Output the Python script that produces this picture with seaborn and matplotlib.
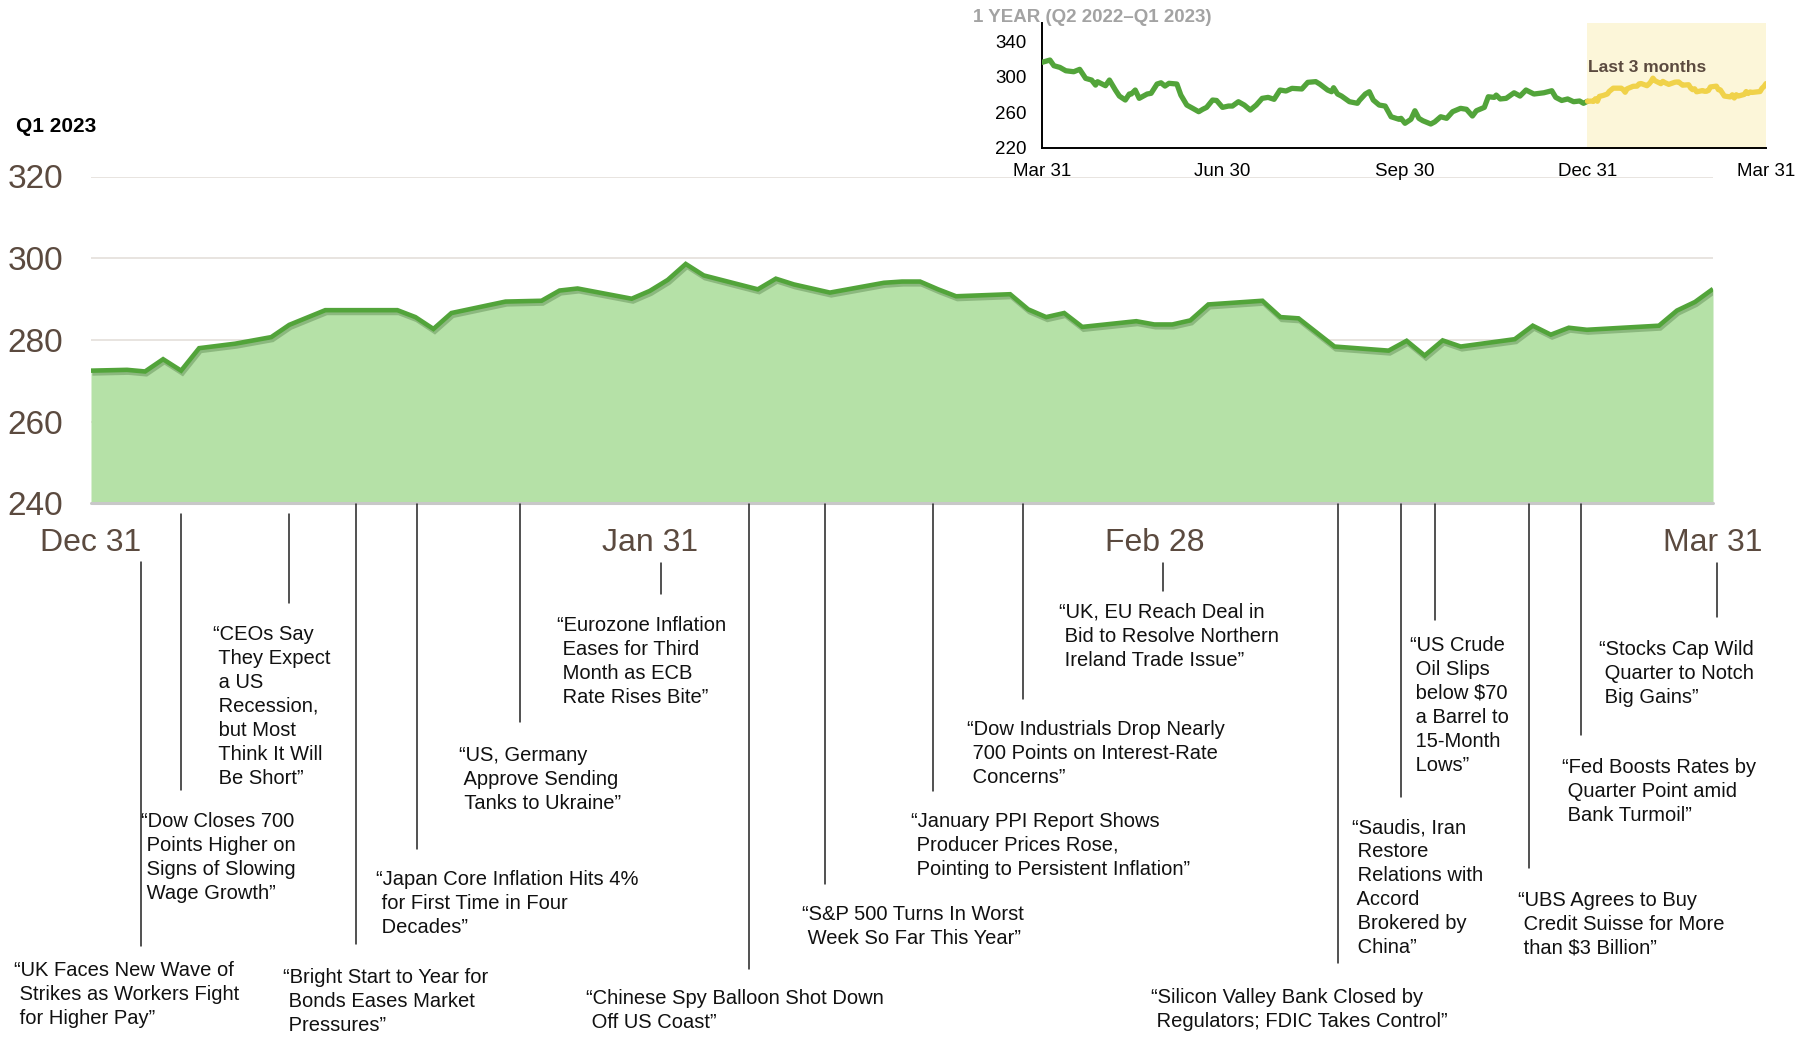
import matplotlib
matplotlib.use('Agg')
import matplotlib.pyplot as plt
import matplotlib.patheffects as pe
import matplotlib.transforms as mtransforms
from matplotlib.lines import Line2D
import seaborn as sns

# Q1 2023 index level, x = days after Dec 31 2022
q1_days = [0, 2, 3, 4, 5, 6, 8, 10, 11, 13, 17, 18, 19, 20, 23, 25, 26, 27, 30, 31,
           32, 33, 34, 37, 38, 39, 41, 44, 45, 46, 47, 48, 51, 52, 53, 54, 55, 58, 59, 60,
           61, 62, 65, 66, 67, 69, 72, 73, 74, 75, 76, 79, 80, 81, 82, 83, 87, 88, 89, 90]
q1_values = [272.5, 272.7, 272.3, 275.3, 272.5, 278.0, 279.1, 280.7, 283.7, 287.3,
             287.3, 285.6, 282.7, 286.6, 289.4, 289.6, 292.1, 292.6, 290.1, 292.0,
             294.7, 298.6, 295.8, 292.4, 295.0, 293.6, 291.6, 294.0, 294.3, 294.3,
             292.4, 290.7, 291.2, 287.5, 285.6, 286.6, 283.2, 284.6, 283.8, 283.8,
             284.8, 288.7, 289.6, 285.6, 285.3, 278.4, 277.4, 279.8, 276.2, 279.9,
             278.4, 280.2, 283.5, 281.3, 283.0, 282.5, 283.5, 287.2, 289.3, 292.5]

# previous nine months, x = days after Mar 31 2022
year_days = [0, 4, 6, 9, 12, 16, 19, 22, 25, 27, 28, 32, 34, 37, 39, 42, 44, 45, 47, 49,
             53, 55, 58, 60, 62, 64, 68, 70, 73, 76, 79, 81, 83, 86, 88, 91, 94, 96, 99,
             102, 105, 108, 111, 114, 117, 120, 123, 126, 131, 134, 138, 140, 144, 146,
             147, 149, 151, 155, 159, 160, 163, 165, 167, 170, 173, 176, 180, 181, 183,
             186, 188, 190, 192, 196, 198, 201, 204, 207, 211, 214, 217, 219, 223, 225,
             228, 229, 231, 234, 238, 241, 244, 248, 253, 257, 259, 262, 265, 268, 271, 273]
year_values = [316.5, 319.1, 312.7, 310.8, 307.0, 305.9, 308.6, 298.4, 296.5, 290.8,
               294.6, 290.1, 296.5, 285.2, 278.4, 273.9, 280.7, 280.7, 285.2, 275.8,
               280.7, 281.5, 292.0, 293.4, 289.7, 292.8, 292.0, 279.5, 268.2, 264.5,
               260.7, 263.4, 265.6, 273.9, 273.4, 265.6, 267.1, 267.1, 272.0, 268.2,
               262.6, 268.2, 275.8, 276.9, 274.7, 285.2, 284.1, 287.1, 286.4, 293.9,
               294.7, 292.0, 285.2, 283.3, 287.8, 280.7, 278.4, 272.0, 270.2, 273.4,
               280.7, 283.3, 273.9, 268.2, 267.1, 255.0, 252.1, 253.2, 247.6, 252.1,
               261.8, 253.2, 250.5, 246.8, 249.2, 255.0, 253.2, 260.7, 264.5, 263.4,
               255.8, 261.8, 265.6, 277.6, 276.9, 279.5, 275.1, 275.8, 282.1, 278.4,
               285.2, 280.7, 282.1, 284.4, 276.9, 273.4, 275.1, 272.0, 272.8, 270.2]

main_ticks = [0, 31, 59, 90]
main_tick_labels = ['Dec 31', 'Jan 31', 'Feb 28', 'Mar 31']
main_yticks = [240, 260, 280, 300, 320]
year_ticks = [0, 91, 183, 275, 365]
year_tick_labels = ['Mar 31', 'Jun 30', 'Sep 30', 'Dec 31', 'Mar 31']
year_yticks = [220, 260, 300, 340]
q1_start = 275  # Dec 31 on the one-year scale

# headlines and the day each one points at
event_days = [2.8, 5.0, 11.0, 14.7, 18.1, 23.8, 31.6, 36.5, 40.7, 46.7, 51.7, 59.5,
              69.2, 72.7, 74.6, 79.8, 82.7, 90.2]
headlines = [
    '“UK Faces New Wave of\n Strikes as Workers Fight\n for Higher Pay”',
    '“Dow Closes 700\n Points Higher on\n Signs of Slowing\n Wage Growth”',
    '“CEOs Say\n They Expect\n a US\n Recession,\n but Most\n Think It Will\n Be Short”',
    '“Bright Start to Year for\n Bonds Eases Market\n Pressures”',
    '“Japan Core Inflation Hits 4%\n for First Time in Four\n Decades”',
    '“US, Germany\n Approve Sending\n Tanks to Ukraine”',
    '“Eurozone Inflation\n Eases for Third\n Month as ECB\n Rate Rises Bite”',
    '“Chinese Spy Balloon Shot Down\n Off US Coast”',
    '“S&P 500 Turns In Worst\n Week So Far This Year”',
    '“January PPI Report Shows\n Producer Prices Rose,\n Pointing to Persistent Inflation”',
    '“Dow Industrials Drop Nearly\n 700 Points on Interest-Rate\n Concerns”',
    '“UK, EU Reach Deal in\n Bid to Resolve Northern\n Ireland Trade Issue”',
    '“Silicon Valley Bank Closed by\n Regulators; FDIC Takes Control”',
    '“Saudis, Iran\n Restore\n Relations with\n Accord\n Brokered by\n China”',
    '“US Crude\n Oil Slips\n below $70\n a Barrel to\n 15-Month\n Lows”',
    '“UBS Agrees to Buy\n Credit Suisse for More\n than $3 Billion”',
    '“Fed Boosts Rates by\n Quarter Point amid\n Bank Turmoil”',
    '“Stocks Cap Wild\n Quarter to Notch\n Big Gains”',
]

# layout in figure pixels (from top): leader top, leader bottom, text left, first line centre
event_layout = [
    (562, 946, 14, 969), (514, 790, 141, 820), (514, 603, 213, 633),
    (504, 944, 283, 976), (504, 849, 376, 878), (504, 722, 459, 754),
    (563, 594, 557, 624), (504, 969, 586, 997), (504, 884, 802, 913),
    (504, 791, 911, 820), (504, 699, 967, 728), (563, 591, 1059, 611),
    (504, 963, 1151, 996), (504, 797, 1352, 826), (504, 620, 1410, 644),
    (504, 868, 1518, 899), (504, 735, 1562, 766), (563, 617, 1599, 648),
]

W, H = 1809, 1044
GREEN = '#52a43a'
FILL = '#b5e1a7'
YELLOW = '#f0d24a'
BROWN = '#5b4a3f'

sns.set_theme(style='white')
plt.rcParams['font.family'] = ['Liberation Sans', 'DejaVu Sans']

fig = plt.figure(figsize=(W / 100, H / 100), dpi=100)


def fx(px):
    return px / W


def fy(py):
    return 1 - py / H


# main Q1 chart
ax = fig.add_axes([fx(91), fy(503.5), fx(1713) - fx(91), fy(176.5) - fy(503.5)])
ax.fill_between(q1_days, q1_values, 240, color=FILL, lw=0, zorder=2)
sns.lineplot(x=q1_days, y=q1_values, ax=ax, color=GREEN, lw=3.3, zorder=3,
             solid_joinstyle='miter', solid_capstyle='butt',
             path_effects=[pe.SimpleLineShadow(offset=(1, -2), shadow_color='#2d5a20', alpha=0.3),
                           pe.Normal()])
ax.set_xlim(0, 90)
ax.set_ylim(240, 320)
ax.set_yticks(main_yticks)
ax.set_xticks(main_ticks, main_tick_labels)
ax.tick_params(axis='y', length=0, pad=20, labelsize=24, labelcolor=BROWN)
ax.tick_params(axis='x', length=0, pad=17.5, labelsize=23, labelcolor=BROWN)
ax.yaxis.grid(True, color='#e6e2dd', lw=1.3, zorder=0)
ax.set_axisbelow(True)
for s in ax.spines.values():
    s.set_visible(False)
ax.axhline(240, color='#c8c8c8', lw=2.2, zorder=4, clip_on=False)
ax.set_xlabel('')
ax.set_ylabel('')

fig.text(fx(16), fy(127), 'Q1 2023', fontsize=15, fontweight='bold', color='black', va='center')

# headlines with leader lines
blend = mtransforms.blended_transform_factory(ax.transData, fig.transFigure)
for day, text, (top, bottom, tx, ty) in zip(event_days, headlines, event_layout):
    fig.add_artist(Line2D([day, day], [fy(top), fy(bottom)], transform=blend,
                          color='#222222', lw=1.1))
    fig.text(fx(tx), fy(ty - 8), text, fontsize=14.5, color='#111111',
             ha='left', va='top', linespacing=1.33)

# one-year inset
ins = fig.add_axes([fx(1042), fy(147.7), fx(1766) - fx(1042), fy(23) - fy(147.7)])
ins.set_facecolor('none')
ins.axvspan(q1_start, 365, color='#fcf6d9', lw=0, zorder=0)
green_x = year_days + [q1_start]
green_y = year_values + [q1_values[0]]
sns.lineplot(x=green_x, y=green_y, ax=ins, color=GREEN, lw=3.8, zorder=3,
             solid_joinstyle='round', solid_capstyle='round')
sns.lineplot(x=[q1_start + d for d in q1_days], y=q1_values, ax=ins, color=YELLOW, lw=3.8,
             zorder=3, solid_joinstyle='round', solid_capstyle='round')
ins.set_xlim(0, 365)
ins.set_ylim(220, 361)
ins.set_xticks(year_ticks, year_tick_labels)
ins.set_yticks(year_yticks)
ins.tick_params(axis='both', length=0, labelsize=13.5, labelcolor='black')
ins.tick_params(axis='x', pad=11)
ins.tick_params(axis='y', pad=11)
for side in ['top', 'right']:
    ins.spines[side].set_visible(False)
for side in ['left', 'bottom']:
    ins.spines[side].set_color('black')
    ins.spines[side].set_linewidth(1.4)
ins.grid(False)
ins.set_xlabel('')
ins.set_ylabel('')

fig.text(fx(973), fy(18), '1 YEAR (Q2 2022–Q1 2023)', fontsize=13.5, fontweight='bold',
         color='#a3a3a3', va='center')
fig.text(fx(1588), fy(68), 'Last 3 months', fontsize=12.5, fontweight='bold',
         color=BROWN, va='center')

fig.savefig('out.png', dpi=100)
